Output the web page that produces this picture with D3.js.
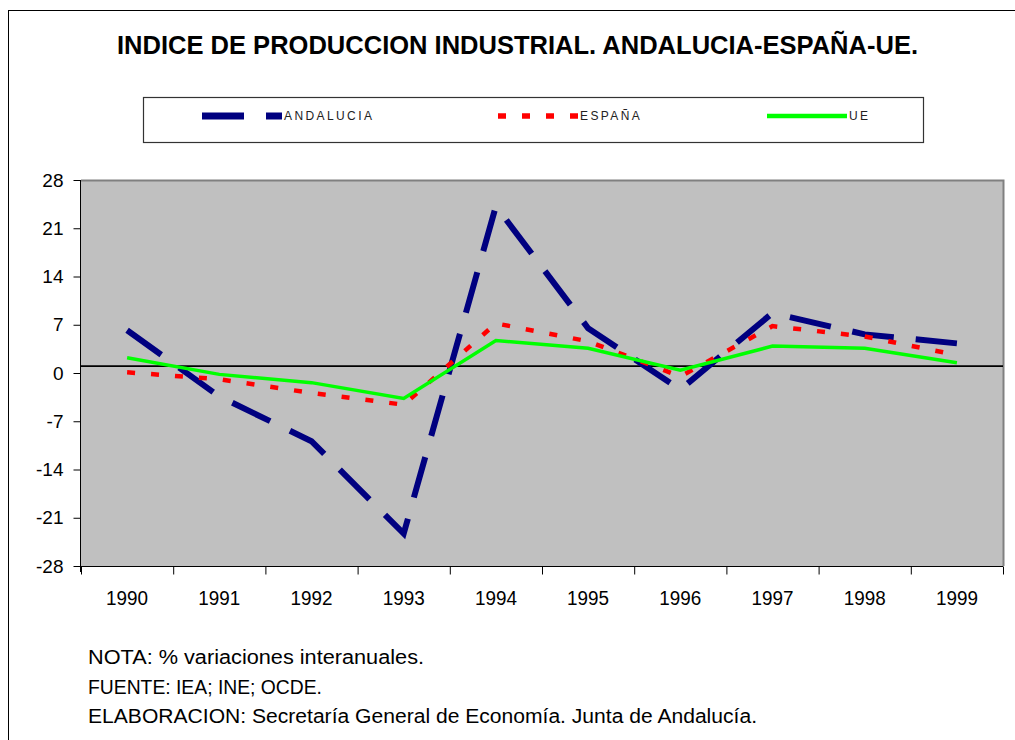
<!DOCTYPE html>
<html>
<head>
<meta charset="utf-8">
<script src="https://cdn.jsdelivr.net/npm/d3@7"></script>
<style>
  body { margin: 0; background: #fff; }
  svg text { font-family: "Liberation Sans", Arial, sans-serif; }
</style>
</head>
<body>
<div id="chart"></div>
<script>
// data (% year-on-year change)
var years = ["1990", "1991", "1992", "1993", "1994", "1995", "1996", "1997", "1998", "1999"];
var andalucia = [6.2, -3.4, -9.9, -23.3, 24.2, 6.5, -2.4, 8.7, 5.6, 4.3];
var espana = [0.1, -0.9, -2.9, -4.6, 7.2, 4.6, -0.5, 6.8, 5.3, 2.6];
var ue = [2.2, -0.2, -1.4, -3.7, 4.7, 3.6, 0.4, 3.9, 3.6, 1.5];
var yTicks = [-28, -21, -14, -7, 0, 7, 14, 21, 28];
var crossAt = 1; // horizontal category line
var notes = [
  "NOTA: % variaciones interanuales.",
  "FUENTE: IEA; INE; OCDE.",
  "ELABORACION: Secretaría General de Economía. Junta de Andalucía."
];

var series = [
  { name: "ANDALUCIA", values: andalucia, color: "#000080", width: 6, dash: "42,22", lx: 202 },
  { name: "ESPAÑA", values: espana, color: "#ff0000", width: 4.5, dash: "8,16", lx: 498 },
  { name: "UE", values: ue, color: "#00ff00", width: 3.5, dash: null, lx: 767 }
];

var W = 1015, H = 740;
var plot = { left: 81, right: 1003, top: 180, bottom: 566 };

var svg = d3.select("#chart")
  .append("svg")
  .attr("width", W)
  .attr("height", H);

// outer frame
svg.append("rect")
  .attr("x", 8.5).attr("y", 10.5)
  .attr("width", 1020).attr("height", 760)
  .style("fill", "none").style("stroke", "#000").style("stroke-width", 1);

// title
svg.append("text")
  .attr("x", 117).attr("y", 54)
  .attr("textLength", 801)
  .attr("lengthAdjust", "spacingAndGlyphs")
  .style("font-size", "25px")
  .style("font-weight", "bold")
  .text("INDICE DE PRODUCCION INDUSTRIAL. ANDALUCIA-ESPAÑA-UE.");

// legend
svg.append("rect")
  .attr("x", 143.5).attr("y", 97.5)
  .attr("width", 780).attr("height", 45)
  .style("fill", "#fff").style("stroke", "#333").style("stroke-width", 1.2);

var leg = svg.append("g").selectAll("g")
  .data(series).enter().append("g");

leg.append("line")
  .attr("x1", d => d.lx).attr("x2", d => d.lx + 80)
  .attr("y1", 116).attr("y2", 116)
  .style("stroke", d => d.color)
  .style("stroke-width", d => d.width + 1)
  .style("stroke-dasharray", d => d.dash);

leg.append("text")
  .attr("x", d => d.lx + 82).attr("y", 120)
  .style("font-size", "12px")
  .style("letter-spacing", "2.4px")
  .style("fill", "#222")
  .text(d => d.name);

// scales
var x = d3.scaleBand()
  .domain(years)
  .range([plot.left, plot.right]);

var y = d3.scaleLinear()
  .domain([-28, 28])
  .range([plot.bottom, plot.top]);

// plot area
svg.append("rect")
  .attr("x", plot.left).attr("y", plot.top)
  .attr("width", plot.right - plot.left).attr("height", plot.bottom - plot.top)
  .style("fill", "#c0c0c0");

svg.append("path")
  .attr("d", "M" + plot.left + "," + (plot.top + 0.5) + "H" + (plot.right + 0.5) + "V" + plot.bottom)
  .style("fill", "none").style("stroke", "#808080").style("stroke-width", 2);

// y axis
var yAxis = d3.axisLeft(y)
  .tickValues(yTicks)
  .tickFormat(d => String(d))
  .tickSize(7)
  .tickPadding(10);

var gy = svg.append("g")
  .attr("transform", "translate(" + (plot.left - 0.5) + ",0)")
  .call(yAxis);
gy.select(".domain").attr("d", "M0," + plot.top + "V" + (plot.bottom + 6));
gy.selectAll("text").style("font-size", "19px").style("fill", "#000");

// x axis: labels centred in bands, ticks at band edges
var xEdges = d3.scaleLinear().domain([0, years.length]).range([plot.left, plot.right]);

var gxt = svg.append("g")
  .attr("transform", "translate(0," + (plot.bottom + 0.5) + ")")
  .call(d3.axisBottom(xEdges).ticks(years.length).tickFormat("").tickSize(8));
gxt.select(".domain").attr("d", "M" + (plot.left - 7) + ",0H" + plot.right);

var gx = svg.append("g")
  .attr("transform", "translate(0," + plot.bottom + ")")
  .call(d3.axisBottom(x).tickSize(0).tickPadding(25));
gx.select(".domain").remove();
gx.selectAll("text")
  .attr("textLength", 42)
  .attr("lengthAdjust", "spacingAndGlyphs")
  .style("font-size", "20px").style("fill", "#000");

// crossing line
svg.append("line")
  .attr("x1", plot.left).attr("x2", plot.right)
  .attr("y1", y(crossAt)).attr("y2", y(crossAt))
  .style("stroke", "#000").style("stroke-width", 1.6);

// series lines
var line = d3.line()
  .x((d, i) => x(years[i]) + x.bandwidth() / 2)
  .y(d => y(d));

svg.append("g").selectAll("path")
  .data(series).enter().append("path")
  .attr("d", d => line(d.values))
  .style("fill", "none")
  .style("stroke", d => d.color)
  .style("stroke-width", d => d.width)
  .style("stroke-dasharray", d => d.dash)
  .style("stroke-linejoin", "miter");

// notes
var noteLen = [336, 234, 669];
svg.append("g").selectAll("text")
  .data(notes).enter().append("text")
  .attr("x", 88)
  .attr("y", (d, i) => 664 + i * 29.5)
  .attr("textLength", (d, i) => noteLen[i])
  .attr("lengthAdjust", "spacingAndGlyphs")
  .style("font-size", "20px")
  .text(d => d);
</script>
</body>
</html>
